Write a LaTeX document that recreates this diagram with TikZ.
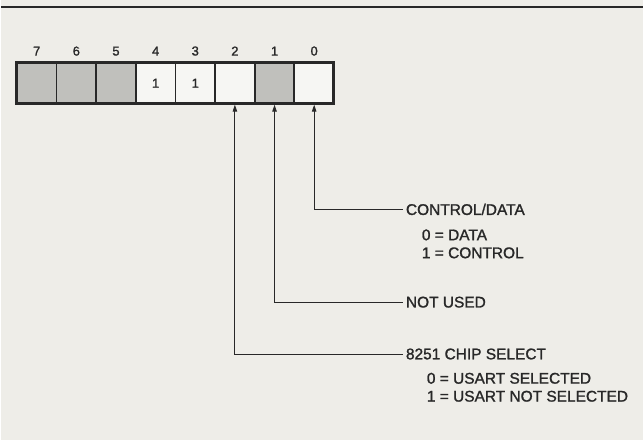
\documentclass[tikz,border=0pt]{standalone}
\usepackage{fontspec}
\setmainfont[FakeBold=1.4]{Liberation Sans}
\definecolor{paperBg}{RGB}{238,237,232}
\definecolor{inkDark}{RGB}{40,40,40}
\definecolor{cellShade}{RGB}{192,192,188}
\definecolor{cellBlank}{RGB}{246,246,243}
\usetikzlibrary{arrows.meta, positioning}

\begin{document}
\begin{tikzpicture}[x=1pt, y=-1pt,
  >={Triangle[length=7pt, width=4.5pt]}, node distance=0pt,
  cell/.style={draw=inkDark, fill=cellBlank, line width=1.8pt, minimum width=39.75pt, minimum height=41pt,
               inner sep=0pt, outer sep=0pt, text=inkDark, font=\fontsize{13}{15}\selectfont},
  shaded/.style={cell, fill=cellShade},
  bitno/.style={text=inkDark, inner sep=1pt, font=\fontsize{13}{15}\selectfont},
  lbl/.style={anchor=west, text=inkDark, inner sep=3pt, font=\fontsize{15.5}{18}\selectfont},
  sub/.style={align=left, text=inkDark, inner sep=0pt, font=\fontsize{15.5}{18}\selectfont},
  arr/.style={->, line width=0.9pt, inkDark, shorten >=1pt}]
  % paper and rule at the top
  \fill[paperBg] (0,0) rectangle (644,441);
  \draw[inkDark, line width=1.8pt] (0,7) -- (644,7);
  % register cells, bit 7 on the left
  \node[shaded] (b7) at (35.9,83.5) {};
  \node[shaded, right=of b7] (b6) {};
  \node[shaded, right=of b6] (b5) {};
  \node[cell, right=of b5] (b4) {1};
  \node[cell, right=of b4] (b3) {1};
  \node[cell, right=of b3] (b2) {};
  \node[shaded, right=of b2] (b1) {};
  \node[cell, right=of b1] (b0) {};
  \draw[inkDark, line width=3pt] (b7.north west) rectangle (b0.south east);
  % bit numbers
  \node[bitno, above=6pt of b7] (n7) {7};
  \node[bitno, above=6pt of b6] (n6) {6};
  \node[bitno, above=6pt of b5] (n5) {5};
  \node[bitno, above=6pt of b4] (n4) {4};
  \node[bitno, above=6pt of b3] (n3) {3};
  \node[bitno, above=6pt of b2] (n2) {2};
  \node[bitno, above=6pt of b1] (n1) {1};
  \node[bitno, above=6pt of b0] (n0) {0};
  % bit descriptions
  \node[lbl] (cd) at (403,210) {CONTROL/DATA};
  \node[sub, below right=11pt and 19pt of cd.south west] (cdv) {0 = DATA\\1 = CONTROL};
  \node[lbl] (nu) at (403,303) {NOT USED};
  \node[lbl] (cs) at (403,355) {8251 CHIP SELECT};
  \node[sub, below right=10pt and 24pt of cs.south west] (csv) {0 = USART SELECTED\\1 = USART NOT SELECTED};
  \draw[arr] (cd.west) -| (b0.south);
  \draw[arr] (nu.west) -| (b1.south);
  \draw[arr] (cs.west) -| (b2.south);
\end{tikzpicture}
\end{document}
